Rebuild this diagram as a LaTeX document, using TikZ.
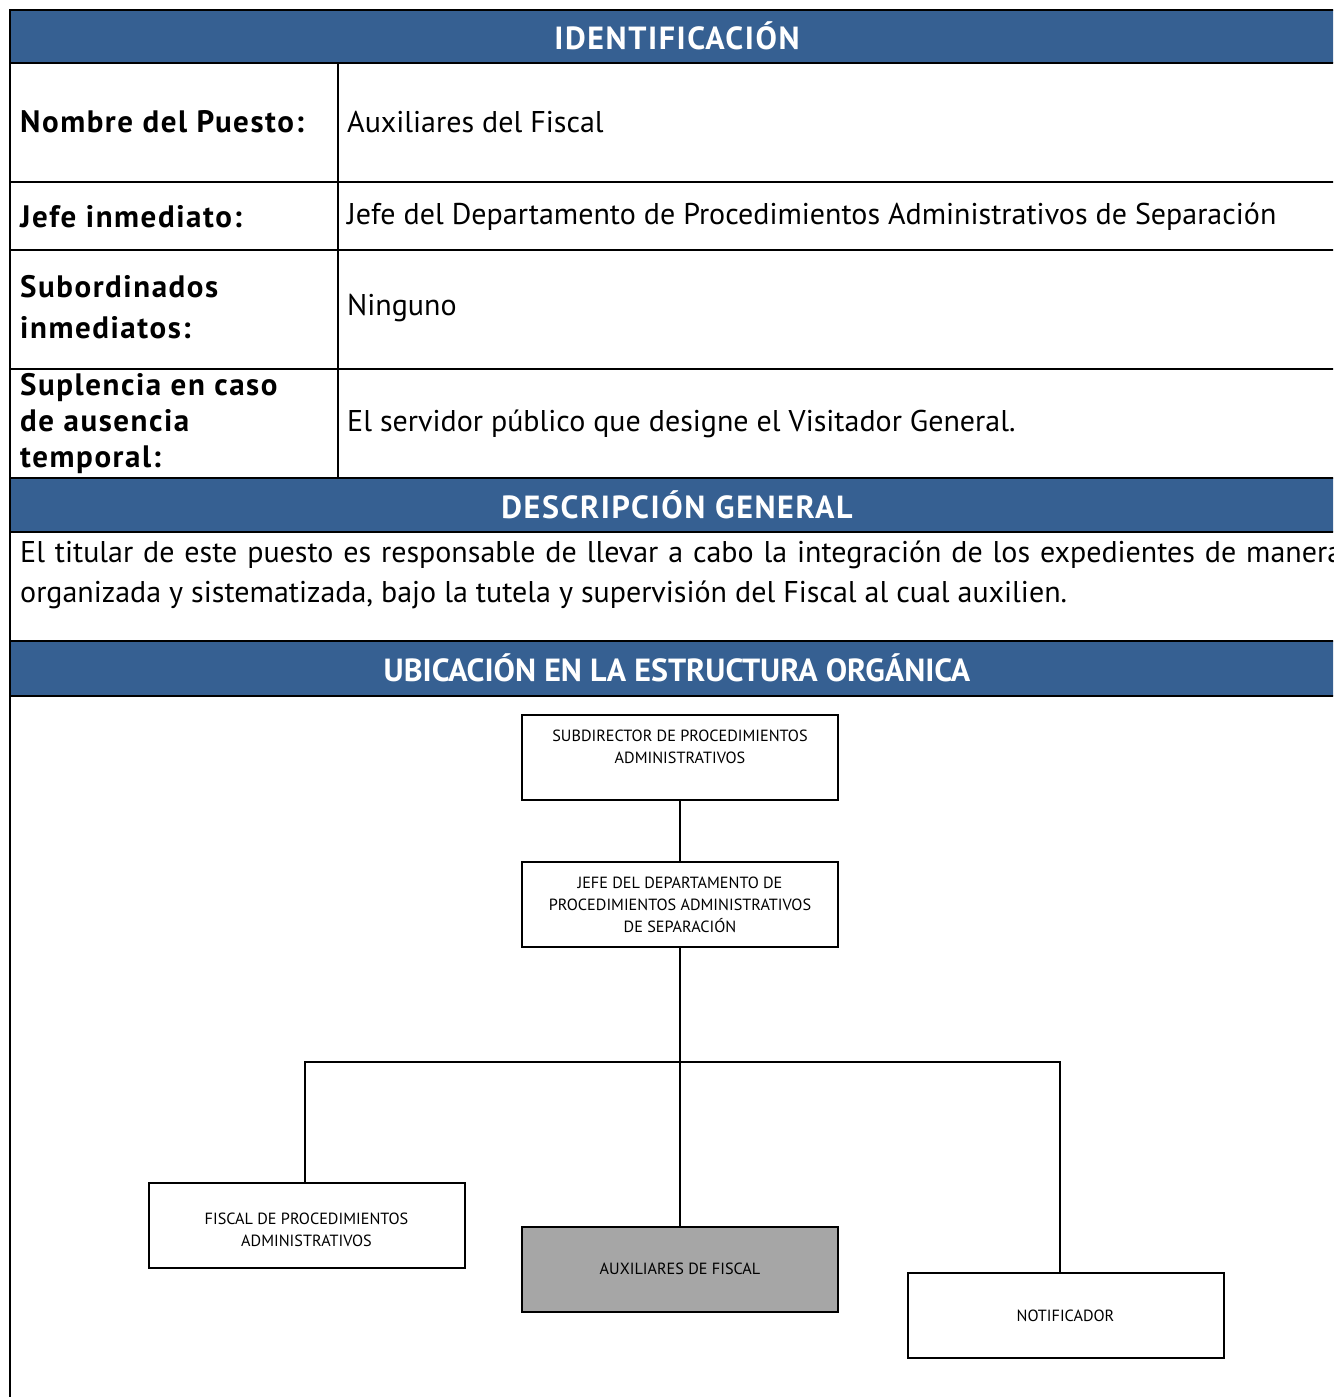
\documentclass[tikz,border=0pt]{standalone}
\usepackage{fontspec}
\setmainfont{PT Sans}
\newfontfamily\lblfont[LetterSpace=5]{PT Sans}
\definecolor{hdr}{HTML}{366092}
\definecolor{selgray}{HTML}{A6A6A6}
\begin{document}
\begin{tikzpicture}[x=1pt,y=-1pt,
  tline/.style={line width=2.5pt,black},
  hdrtext/.style={text=white,font=\lblfont\fontsize{32}{36}\selectfont\bfseries,inner sep=0pt},
  lbl/.style={anchor=west,font=\lblfont\fontsize{31}{36}\selectfont\bfseries,align=left,inner sep=0pt},
  val/.style={anchor=west,font=\fontsize{30}{36}\selectfont,align=left,inner sep=0pt},
  orgbox/.style={draw,line width=2pt,minimum width=316pt,minimum height=85pt,align=center,
    font=\fontsize{16.2}{22}\selectfont,inner sep=0pt},
  conn/.style={line width=2pt}]
\useasboundingbox (0,0) rectangle (1333,1397);
\clip (0,0) rectangle (1333,1397);
% header bands
\fill[hdr] (10,10) rectangle (1345,63);
\fill[hdr] (10,478) rectangle (1345,532);
\fill[hdr] (10,641) rectangle (1345,696);
% table lines
\draw[tline] (1345,10) -- (10,10) -- (10,1400);
\foreach \yy in {63,182,250,369,478,532,641,696}
  \draw[tline] (10,\yy) -- (1345,\yy);
\draw[tline] (338,63) -- (338,478);
% header texts
\node[hdrtext] (h1) at (677,36) {IDENTIFICACIÓN};
\node[hdrtext] (h2) at (677,505) {DESCRIPCIÓN GENERAL};
\node[hdrtext,font=\fontsize{32}{36}\selectfont\bfseries] (h3) at (677,668) {UBICACIÓN EN LA ESTRUCTURA ORGÁNICA};
% labels
\node[lbl] (l1) at (20,122) {Nombre del Puesto:};
\node[lbl] (l2) at (20,217) {Jefe inmediato:};
\node[lbl,font=\lblfont\fontsize{31}{41}\selectfont\bfseries] (l3) at (20,307) {Subordinados\\inmediatos:};
\node[lbl] (l4) at (20,424) {Suplencia en caso\\de ausencia\\temporal:};
% values
\node[val] (v1) at (347,122) {Auxiliares del Fiscal};
\node[val] (v2) at (347,217) {Jefe del Departamento de Procedimientos Administrativos de Separación};
\node[val] (v3) at (347,308) {Ninguno};
\node[val] (v4) at (347,424) {El servidor público que designe el Visitador General.};
% description
\node[val,font=\fontsize{30}{40}\selectfont] (desc) at (20,575) {\makebox[1322pt][s]{El titular de este puesto es responsable de llevar a cabo la integración de los expedientes de manera}\\organizada y sistematizada, bajo la tutela y supervisión del Fiscal al cual auxilien.};
% org chart
\node[orgbox] (sub) at (680,757.5) {SUBDIRECTOR DE PROCEDIMIENTOS\\ADMINISTRATIVOS\\~};
\node[orgbox] (jefe) at (680,904.5) {JEFE DEL DEPARTAMENTO DE\\PROCEDIMIENTOS ADMINISTRATIVOS\\DE SEPARACIÓN};
\node[orgbox] (fis) at (306.5,1225) {~\\FISCAL DE PROCEDIMIENTOS\\ADMINISTRATIVOS};
\node[orgbox,fill=selgray] (aux) at (680,1269) {AUXILIARES DE FISCAL};
\node[orgbox] (not) at (1065.5,1315.5) {NOTIFICADOR};
\coordinate (bus) at (680,1062);
\draw[conn] (sub) -- (jefe);
\draw[conn] (jefe) -- (aux);
\draw[conn] (fis.north -| 305,0) |- (bus) -| (not.north -| 1060,0);
\end{tikzpicture}
\end{document}
